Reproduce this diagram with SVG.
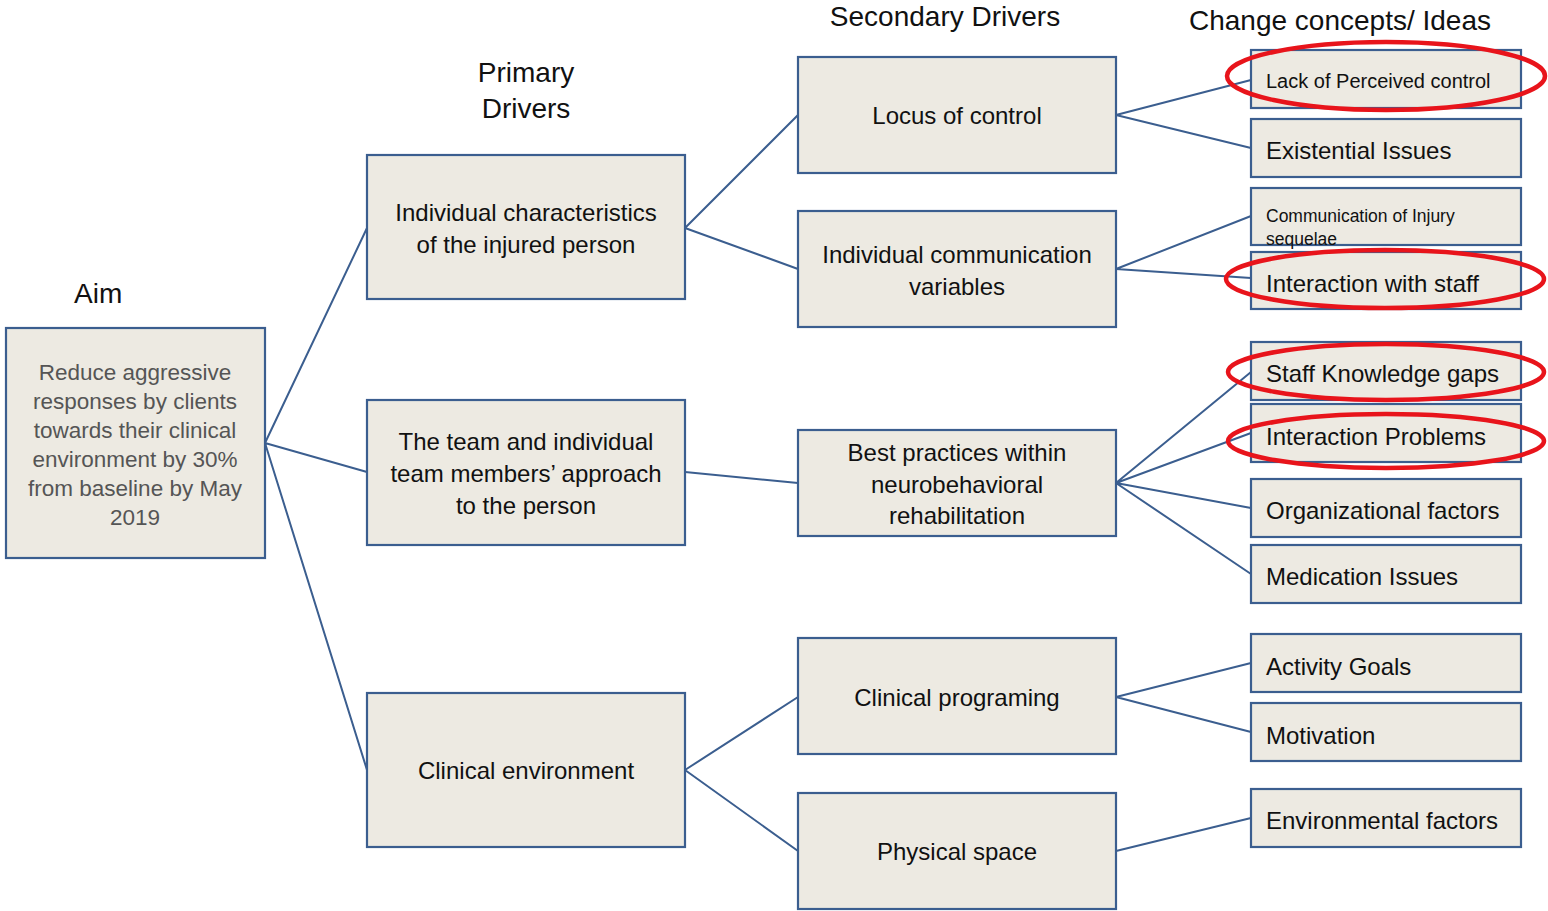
<svg xmlns="http://www.w3.org/2000/svg" width="1548" height="911" viewBox="0 0 1548 911">
  <style>
    .box { fill: #EDEAE2; stroke: #3B5E8F; stroke-width: 2.2; }
    .link { stroke: #3B5E8F; stroke-width: 2; fill: none; }
    .hl { fill: none; stroke: #E8141B; stroke-width: 4.5; }
    text { font-family: "Liberation Sans", Arial, sans-serif; fill: #111; }
    .c { text-anchor: middle; font-size: 24px; }
    .l { font-size: 24px; }
    .hdr { font-size: 28px; }
    .aim { text-anchor: middle; font-size: 22.5px; fill: #555; }
  </style>

  <!-- column headings -->
  <g id="headings">
    <text class="hdr" x="74" y="303">Aim</text>
    <text class="hdr" x="526" y="82" text-anchor="middle">Primary</text>
    <text class="hdr" x="526" y="118" text-anchor="middle">Drivers</text>
    <text class="hdr" x="945" y="26" text-anchor="middle">Secondary Drivers</text>
    <text class="hdr" x="1189" y="30">Change concepts/ Ideas</text>
  </g>

  <!-- connectors -->
  <g id="connectors">
    <path class="link" d="M265 443 L367 228 M265 443 L367 472 M265 443 L367 770"/>
    <path class="link" d="M685 228 L798 115 M685 228 L798 269"/>
    <path class="link" d="M685 472 L798 483"/>
    <path class="link" d="M685 770 L798 697 M685 770 L798 851"/>
    <path class="link" d="M1116 115 L1251 80 M1116 115 L1251 148"/>
    <path class="link" d="M1116 269 L1251 216 M1116 269 L1251 278"/>
    <path class="link" d="M1116 483 L1251 372 M1116 483 L1251 433 M1116 483 L1251 508 M1116 483 L1251 574"/>
    <path class="link" d="M1116 697 L1251 663 M1116 697 L1251 732"/>
    <path class="link" d="M1116 851 L1251 818"/>
  </g>

  <!-- aim -->
  <g id="aim">
    <rect class="box" x="6" y="328" width="259" height="230"/>
    <text class="aim" x="135" y="380">Reduce aggressive</text>
    <text class="aim" x="135" y="409">responses by clients</text>
    <text class="aim" x="135" y="438">towards their clinical</text>
    <text class="aim" x="135" y="467">environment by 30%</text>
    <text class="aim" x="135" y="496">from baseline by May</text>
    <text class="aim" x="135" y="525">2019</text>
  </g>

  <!-- primary drivers -->
  <g id="p1">
    <rect class="box" x="367" y="155" width="318" height="144"/>
    <text class="c" x="526" y="221">Individual characteristics</text>
    <text class="c" x="526" y="253">of the injured person</text>
  </g>
  <g id="p2">
    <rect class="box" x="367" y="400" width="318" height="145"/>
    <text class="c" x="526" y="450">The team and individual</text>
    <text class="c" x="526" y="482">team members’ approach</text>
    <text class="c" x="526" y="514">to the person</text>
  </g>
  <g id="p3">
    <rect class="box" x="367" y="693" width="318" height="154"/>
    <text class="c" x="526" y="779">Clinical environment</text>
  </g>

  <!-- secondary drivers -->
  <g id="s1">
    <rect class="box" x="798" y="57" width="318" height="116"/>
    <text class="c" x="957" y="124">Locus of control</text>
  </g>
  <g id="s2">
    <rect class="box" x="798" y="211" width="318" height="116"/>
    <text class="c" x="957" y="263">Individual communication</text>
    <text class="c" x="957" y="295">variables</text>
  </g>
  <g id="s3">
    <rect class="box" x="798" y="430" width="318" height="106"/>
    <text class="c" x="957" y="461">Best practices within</text>
    <text class="c" x="957" y="493">neurobehavioral</text>
    <text class="c" x="957" y="524">rehabilitation</text>
  </g>
  <g id="s4">
    <rect class="box" x="798" y="638" width="318" height="116"/>
    <text class="c" x="957" y="706">Clinical programing</text>
  </g>
  <g id="s5">
    <rect class="box" x="798" y="793" width="318" height="116"/>
    <text class="c" x="957" y="860">Physical space</text>
  </g>

  <!-- change concepts -->
  <g id="c1">
    <rect class="box" x="1251" y="50" width="270" height="58"/>
    <text x="1266" y="88" font-size="20">Lack of Perceived  control</text>
  </g>
  <g id="c2">
    <rect class="box" x="1251" y="119" width="270" height="58"/>
    <text class="l" x="1266" y="159">Existential Issues</text>
  </g>
  <g id="c3">
    <rect class="box" x="1251" y="188" width="270" height="57"/>
    <text x="1266" y="222" font-size="17.5">Communication of Injury</text>
    <text x="1266" y="245" font-size="17.5">sequelae</text>
  </g>
  <g id="c4">
    <rect class="box" x="1251" y="252" width="270" height="57"/>
    <text class="l" x="1266" y="292">Interaction with staff</text>
  </g>
  <g id="c5">
    <rect class="box" x="1251" y="342" width="270" height="58"/>
    <text class="l" x="1266" y="382">Staff Knowledge gaps</text>
  </g>
  <g id="c6">
    <rect class="box" x="1251" y="404" width="270" height="58"/>
    <text class="l" x="1266" y="445">Interaction Problems</text>
  </g>
  <g id="c7">
    <rect class="box" x="1251" y="479" width="270" height="58"/>
    <text class="l" x="1266" y="519">Organizational factors</text>
  </g>
  <g id="c8">
    <rect class="box" x="1251" y="545" width="270" height="58"/>
    <text class="l" x="1266" y="585">Medication Issues</text>
  </g>
  <g id="c9">
    <rect class="box" x="1251" y="634" width="270" height="58"/>
    <text class="l" x="1266" y="675">Activity Goals</text>
  </g>
  <g id="c10">
    <rect class="box" x="1251" y="703" width="270" height="58"/>
    <text class="l" x="1266" y="744">Motivation</text>
  </g>
  <g id="c11">
    <rect class="box" x="1251" y="789" width="270" height="58"/>
    <text class="l" x="1266" y="829">Environmental factors</text>
  </g>

  <!-- highlight rings -->
  <g id="highlights">
    <ellipse class="hl" cx="1386" cy="76" rx="159" ry="34"/>
    <ellipse class="hl" cx="1385" cy="279" rx="159" ry="29"/>
    <ellipse class="hl" cx="1386" cy="372" rx="158" ry="28"/>
    <ellipse class="hl" cx="1386" cy="441" rx="158" ry="27"/>
  </g>
</svg>
